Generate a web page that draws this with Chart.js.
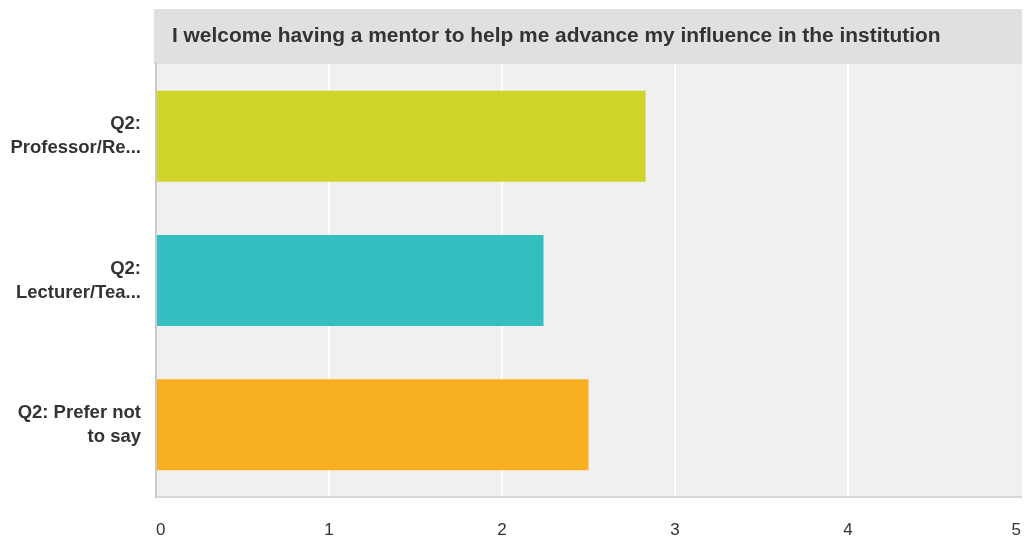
<!DOCTYPE html>
<html>
<head>
<meta charset="utf-8">
<script src="https://cdn.jsdelivr.net/npm/chart.js@4/dist/chart.umd.min.js"></script>
<style>
  html, body { margin: 0; padding: 0; background: #fff; }
  #wrap { width: 1026px; height: 543px; }
</style>
</head>
<body>
<div id="wrap"><canvas id="chart" width="1026" height="543"></canvas></div>
<script>
const chartTitle = "I welcome having a mentor to help me advance my influence in the institution";
const categories = [
  ["Q2:", "Professor/Re..."],
  ["Q2:", "Lecturer/Tea..."],
  ["Q2: Prefer not", "to say"]
];
const averages = [2.83, 2.24, 2.5];
const barColors = ["#d0d52a", "#34bec0", "#f8b021"];
const xTicks = [0, 1, 2, 3, 4, 5];

const textColor = "#333333";

// grey plot background and the title band above it
const backdrop = {
  id: "backdrop",
  beforeDraw(chart) {
    const { ctx, chartArea } = chart;
    ctx.save();
    ctx.fillStyle = "#f0f0f0";
    ctx.fillRect(chartArea.left, chartArea.top, chartArea.right - chartArea.left + 1, chartArea.bottom - chartArea.top);
    ctx.fillStyle = "#e0e0e0";
    ctx.fillRect(chartArea.left - 2, 9, chartArea.right - chartArea.left + 3, chartArea.top - 9);
    ctx.fillStyle = textColor;
    ctx.font = "bold 20.9px 'Liberation Sans', Arial, sans-serif";
    ctx.textBaseline = "alphabetic";
    ctx.fillText(chartTitle, chartArea.left + 16, 42);
    ctx.restore();
  }
};

new Chart(document.getElementById("chart").getContext("2d"), {
  type: "bar",
  data: {
    labels: categories,
    datasets: [{
      data: averages,
      backgroundColor: barColors,
      barPercentage: 0.63,
      categoryPercentage: 1
    }]
  },
  options: {
    indexAxis: "y",
    responsive: false,
    animation: false,
    layout: { padding: { top: 64, right: 5, bottom: 0, left: 0 } },
    plugins: { legend: { display: false }, tooltip: { enabled: false } },
    scales: {
      x: {
        min: 0,
        max: 5,
        afterBuildTicks(scale) { scale.ticks = xTicks.map(v => ({ value: v })); },
        afterFit(scale) {
          scale.height = 46;
          // end labels sit inside the axis, so no extra side padding
          scale.paddingLeft = 0;
          scale.paddingRight = 0;
        },
        grid: {
          color: c => (c.tick && c.tick.value > 0 && c.tick.value < 5) ? "#ffffff" : "rgba(0,0,0,0)",
          lineWidth: 2,
          drawTicks: false
        },
        border: { color: "#d9d9d9", width: 2 },
        ticks: {
          align: "inner",
          padding: 23,
          color: textColor,
          font: { family: "'Liberation Sans', Arial, sans-serif", size: 17 }
        }
      },
      y: {
        afterFit(scale) { scale.width = 156; },
        grid: { display: false, drawTicks: false },
        border: { color: "#c8c8c8", width: 2 },
        ticks: {
          padding: 15,
          color: textColor,
          font: { family: "'Liberation Sans', Arial, sans-serif", size: 18.5, weight: "bold", lineHeight: 1.3 }
        }
      }
    }
  },
  plugins: [backdrop]
});
</script>
</body>
</html>
